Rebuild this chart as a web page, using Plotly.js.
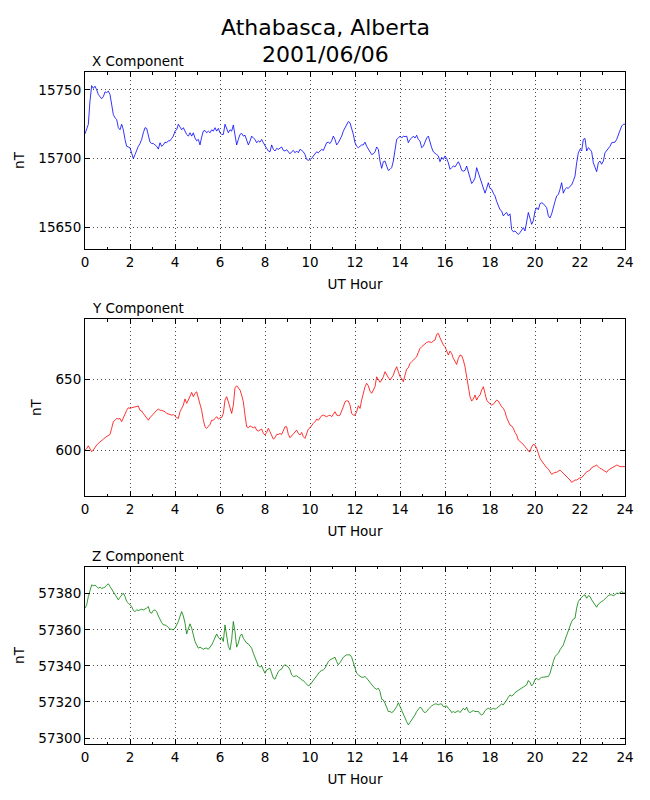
<!DOCTYPE html>
<html>
<head>
<meta charset="utf-8">
<script src="https://cdn.plot.ly/plotly-3.0.1.min.js"></script>
<style>
  body { margin: 0; background: #fff; }
  #plot { width: 650px; height: 800px; }
</style>
</head>
<body>
<div id="plot"></div>
<script>

// Station / date
var station = "Athabasca, Alberta";
var obsDate = "2001/06/06";
var componentNames = ["X Component", "Y Component", "Z Component"];

// Samples run from 0 to 24 UT hours at an even step
var sampleStart = 0;
var sampleStep = 24 / 324;

// X component (nT)
var xComp = [
  15718,15722,15725,15742,15753,15751,15752.6,15750,15746.6,15745,15743.5,15745,15748.5,15748,15749,15746.6,
  15740.6,15732,15729.7,15728.5,15722.5,15721,15725,15721,15714,15709,15708.5,15708,15704,15700,15703,15706.8,
  15709,15711,15714,15718.8,15722.5,15722,15716.4,15712,15711,15711,15710,15709,15707,15711.6,15709,15710,
  15712,15711.6,15713,15713,15714.7,15716.4,15720,15721,15725,15722.5,15721,15722.5,15720,15717.6,15716.4,15718.8,
  15716.4,15718.8,15715,15713,15714,15710,15715.7,15720,15720.5,15718.8,15720,15718.8,15721,15720,15722.5,15720,
  15722,15718.8,15717.6,15717.6,15725,15721,15718.8,15721,15720,15724.4,15717.6,15710,15714,15717.6,15718.4,15716.4,
  15717,15714,15710,15712.8,15716.4,15715,15714,15711.6,15713,15712,15714,15711.6,15709,15707.5,15705.6,15705,
  15710,15706.8,15705.6,15707.5,15706.8,15708,15708.5,15706,15705.6,15706.5,15705,15703.6,15705,15706,15704.3,15705.6,
  15704.3,15706.8,15706,15705,15703,15699.5,15698.8,15699.5,15700.2,15702,15703.6,15705,15704.3,15705.6,15706.8,15706,
  15709,15711.6,15712,15711,15713,15716.4,15714,15710,15711.6,15714,15716.4,15720,15722.5,15725,15727,15726,
  15722.5,15717.6,15711.6,15709,15708,
  15709,15710,15710,15712,15709,15706.8,15705,15703,15703.6,15705,15708.5,15706.8,15698.3,15693,15697.8,15698.3,
  15694.7,15691.5,15692.3,15693.5,15698.3,15706.8,15714,15715,15716.4,15715,15716.4,15716,15716.4,15711.6,15714,15715,
  15716.4,15715,15717,15714,15712.8,15708,15709,15712,15715,15716.4,15711.6,15708,15705,15703.6,15703,15702,
  15697.8,15701,15699.5,15702,15700.2,15697,15692.3,15693.5,15694.7,15694,15696,15697.8,15695.4,15691.5,15691,15691.5,
  15694.7,15690,15686,15682,15683.5,15686,15693.5,15690,15686,15682.6,15679,15675,15678.5,15682.6,15678.5,15677.8,
  15675,15673,15669,15665.7,15663,15662,15658.5,15660,15661,15658.5,15660,15648.6,15647,15647.6,15646.4,15645,
  15646.4,15648.6,15650,15647.6,15653.6,15661,15656.8,15652.4,15655,15662,15664.5,15663,15667.4,15668,15667.4,15665.7,
  15664.5,15658.5,15657,15660,15665.7,15669,15673,15674,15677.8,15682.6,15675,15677.8,15679,15678.5,15680,15681,
  15684,15687.4,15697,15704.3,15706.8,15705.6,15714,15714.7,15705.6,15708,15706.8,15705,15697,15693.5,15690.6,15697,
  15698.3,15696,15698.3,15704.3,15706,15706.8,15709,15711.6,15711.6,15712,15714,15717.6,15720,15723.7,15725,15725
];

// Y component (nT)
var yComp = [
  600,601,603,601,598.8,600,602.3,603.5,604.7,605.9,607,607.7,608.7,609.4,610,611,
  615.3,620,621,622.3,621.8,622.3,620,622.8,625.8,628,629.8,629.3,629.8,630,630.5,630.5,
  631,628,627.5,625.8,624.2,622.3,621,622.8,624.2,625.8,627,628,628.9,628,628,627.5,
  627,625.8,625.4,625,624.6,625,623.5,622.8,622.3,627,629.3,631.7,636,632.9,635.2,637.6,
  640.6,637.6,640,641,636.9,632.9,628,621,616.4,615.3,617,618,621,621,622.3,623.5,
  621.8,622.8,622.8,625.8,635.2,637.6,634,629.3,625.8,631.7,643.9,645.3,643.9,642.3,638.7,634,
  624.6,616.4,615.7,617,616.4,615.7,616.4,614,613.4,614,614.8,611.7,610.6,612.4,615.3,612.9,
  610.6,607.7,608.7,611,611,611.7,611,613.4,616.4,616.4,611,608.7,610,611.7,612.9,614,
  611.7,610.6,612.4,609.4,608.2,611,614.8,615.7,617.6,618.8,620,621.8,621,622.8,624.2,624.6,
  624.2,623.5,624.2,624.6,623.5,625,627,624.6,624.2,624.6,627,630.5,634,634.7,634.5,631.7,
  625.8,624.6,624.6,627,631.2,
  629.3,635.2,640,644.6,647,645.3,641.5,640,642.3,644.6,651.6,649.3,647.7,649.3,651.6,655.2,
  652.8,651,649.3,651,652.8,656.3,658.7,655.2,651.6,650.5,648.1,652.8,657,658,661,662.2,
  663.4,664.6,665.7,668.8,671.6,672.8,674,675.1,675.8,676.3,675.8,675.8,676.8,677.5,681.5,682.2,
  679.1,675.8,674,672.8,669.7,666.9,669.7,668,664.6,662.2,660.3,664.6,666.9,666.5,663.4,658.7,
  650.5,643.4,637.6,634.5,636,638.7,635.2,637.6,638.7,642.3,644.6,640,635.2,633.6,632.9,631.7,
  632.2,633.6,635.2,634.5,632.2,630.5,629.3,627,622.8,619.5,617.6,617,615.3,612.4,610.6,607,
  605.9,605.4,604,602.3,601.2,599.3,598.8,602.3,604,603.5,601.2,597.7,594.1,592.3,590.6,589,
  587.6,586.6,584.7,582.9,583.6,584.3,584.3,585.2,585.9,584.7,583.6,582.4,581.2,580.5,578.9,577.2,
  578.1,578.9,578.9,579.6,580.5,580.5,581.9,583.6,584.7,585.2,585.9,587.6,588.3,589,589.4,588.3,
  587,586.6,585.9,585.2,584.3,585.9,586.6,587.6,588.3,589,589.4,589,588.3,588.3,588.3,588.3
];

// Z component (nT)
var zComp = [
  57372,57373.8,57378.4,57382.1,57384.9,57384.4,57384.7,57384,57383,57383.6,57382.9,57383.3,57383.6,57384.7,57385.5,57384,
  57382.5,57381.2,57379.4,57377.5,57376.6,57378,57379.4,57380.3,57378.4,57375.7,57374.8,57373.8,57372.9,57370.7,57370.1,57371,
  57370.7,57371,57371.4,57371,57371.4,57372,57372.9,57369.6,57369.2,57370.7,57371,57370.1,57367.7,57365.5,57364,57362.7,
  57362.7,57362.2,57360.9,57360.3,57360.3,57360,57360.9,57362.7,57364.6,57367.4,57370.1,57367.7,57363.7,57357.7,57360.9,57363.3,
  57360.9,57356.3,57353.5,57351.6,57349.8,57350.4,57349.8,57349.2,57349.8,57349.8,57349.2,57350.4,57351.6,57353.5,57355.3,57357.7,
  57355.9,57354.8,57355.9,57353.5,57362.7,57356.3,57350.7,57348.9,57354.4,57364.6,57359,57350.4,57352.6,57356.3,57357.7,57355.3,
  57353.5,57352.6,57352.2,57350.7,57349.8,57347,57344.8,57342.4,57340,57339.3,57340,57337.8,57335.9,57337.8,57338.2,57338.7,
  57335.9,57333.2,57332.6,57334.5,57336.9,57337.8,57338.2,57340,57340.6,57340,57339.3,57337.8,57335,57334.1,57334.5,57334.5,
  57333.7,57333.2,57332.2,57331.9,57330.8,57330,57328.9,57329.5,57330.8,57332.2,57333.2,57335,57336.3,57336.9,57337.4,57337.8,
  57338.7,57340.6,57342.4,57343.3,57343.7,57344.3,57344.8,57342.4,57340.6,57341.8,57343.7,57344.8,57345.5,57346.1,57346.1,57346.1,
  57344.8,57341.5,57338.7,57335.9,57335,
  57334.1,57333.7,57333.7,57334.1,57333.2,57331.9,57330.4,57329.5,57328.5,57327.6,57327,57327.6,57325.8,57321.5,57321.1,57319.3,
  57316.5,57314.7,57314.7,57314.1,57314.7,57316,57317.4,57319.6,57317.4,57314.7,57312.8,57311,57309.1,57307.3,57308.6,57310.4,
  57311.9,57312.8,57314.7,57316,57317.1,57316.5,57314.7,57314.1,57314.7,57316,57317.1,57317.8,57318.4,57318.9,57318.9,57318.4,
  57318.9,57318.9,57317.4,57317.4,57317.8,57316.5,57315.6,57314.1,57314.7,57314.1,57314.7,57315.2,57314.1,57315.2,57316.5,57315.6,
  57317.1,57314.7,57314.1,57314.7,57315.2,57314.7,57314.7,57314.7,57313.4,57312.8,57313.4,57315.2,57316,57316.5,57316,57316,
  57316.5,57316,57316.5,57317.4,57317.8,57318.9,57318.4,57320.2,57321.1,57322.6,57323.9,57323.3,57323.9,57325.2,57325.8,57326.7,
  57327.1,57327.6,57328.5,57328.9,57329.5,57331.9,57330.8,57328.9,57330,57332.6,57333.2,57332.2,57333.2,57333.7,57333.7,57333.7,
  57334.1,57334.1,57335.9,57339.6,57342.4,57345.2,57346.1,57347,57348.9,57350.7,57351.6,57354.4,57357.2,57360,57362.7,57364.6,
  57365.9,57366.4,57372,57375.7,57377,57378.1,57378.9,57379.4,57377.5,57378.9,57378.4,57376.6,57375.1,57373.8,57372.5,57374.2,
  57375.1,57375.7,57376.2,57377.5,57378.1,57378.9,57379.4,57379.4,57378.9,57379.4,57380.4,57380,57380.7,57381.2,57380.4,57380.4
];

// Axis settings per panel
var yRanges = [[15634.5, 15762.9], [567.6, 692.3], [57296.7, 57394.8]];
var yDticks = [50, 50, 20];
var yDomains = [[0.7366, 1], [0.369, 0.6324], [0, 0.2634]];
var lineColors = ["#0000ff", "#ff0000", "#008000"];
var series = [xComp, yComp, zComp];

var fontFamily = "DejaVu Sans, sans-serif";
var fontSize = 13.5;

var data = series.map((vals, i) => {
  let sfx = i === 0 ? "" : String(i + 1);
  return {
    y: vals,
    x0: sampleStart,
    dx: sampleStep,
    xaxis: "x" + sfx,
    yaxis: "y" + sfx,
    type: "scatter",
    mode: "lines",
    showlegend: false,
    hoverinfo: "skip",
    line: { color: lineColors[i], width: 0.8 }
  };
});

var layout = {
  width: 650,
  height: 800,
  margin: { l: 85, r: 25, t: 72, b: 56 },
  paper_bgcolor: "#ffffff",
  plot_bgcolor: "#ffffff",
  separators: ".",
  font: { family: fontFamily, size: fontSize, color: "#000000" },
  showlegend: false,
  annotations: []
};

let commonAxis = {
  ticks: "inside",
  tickcolor: "#000000",
  tickwidth: 1,
  showline: true,
  linecolor: "#000000",
  linewidth: 1,
  mirror: "allticks",
  showgrid: true,
  gridcolor: "#000000",
  gridwidth: 0.7,
  griddash: "1px,3px",
  zeroline: false,
  fixedrange: true,
  tickfont: { family: fontFamily, size: fontSize, color: "#000000" }
};

componentNames.forEach((name, i) => {

  let sfx = i === 0 ? "" : String(i + 1);

  layout["xaxis" + sfx] = Object.assign({}, commonAxis, {
    anchor: "y" + sfx,
    domain: [0, 1],
    range: [0, 24],
    tick0: 0,
    dtick: 2,
    ticklen: 5,
    ticklabelstandoff: 1,
    minor: { dtick: 1, ticks: "inside", ticklen: 2.5, tickcolor: "#000000", showgrid: false },
    title: { text: "UT Hour", font: { family: fontFamily, size: fontSize }, standoff: 10 }
  });

  layout["yaxis" + sfx] = Object.assign({}, commonAxis, {
    anchor: "x" + sfx,
    domain: yDomains[i],
    range: yRanges[i],
    dtick: yDticks[i],
    ticklen: 5,
    ticklabelstandoff: 0,
    tickformat: "d",
    exponentformat: "none",
    title: { text: "nT", font: { family: fontFamily, size: fontSize }, standoff: 10 }
  });

  // Panel title, left aligned above the axes
  layout.annotations.push({
    xref: "x" + sfx + " domain",
    yref: "y" + sfx + " domain",
    x: 0,
    y: 1,
    xanchor: "left",
    yanchor: "bottom",
    xshift: 5,
    yshift: 1,
    text: name,
    showarrow: false,
    font: { family: fontFamily, size: fontSize, color: "#000000" }
  });

});

// Figure title (two lines), centred on the figure rather than the axes
layout.annotations.push({
  xref: "paper", yref: "paper",
  x: 0.4454, y: 1.066,
  xanchor: "center", yanchor: "middle",
  text: station,
  showarrow: false,
  font: { family: fontFamily, size: 22, color: "#000000" }
});
layout.annotations.push({
  xref: "paper", yref: "paper",
  x: 0.4454, y: 1.0255,
  xanchor: "center", yanchor: "middle",
  text: obsDate,
  showarrow: false,
  font: { family: fontFamily, size: 22, color: "#000000" }
});

Plotly.newPlot("plot", data, layout, { displayModeBar: false, staticPlot: true });

</script>
</body>
</html>
